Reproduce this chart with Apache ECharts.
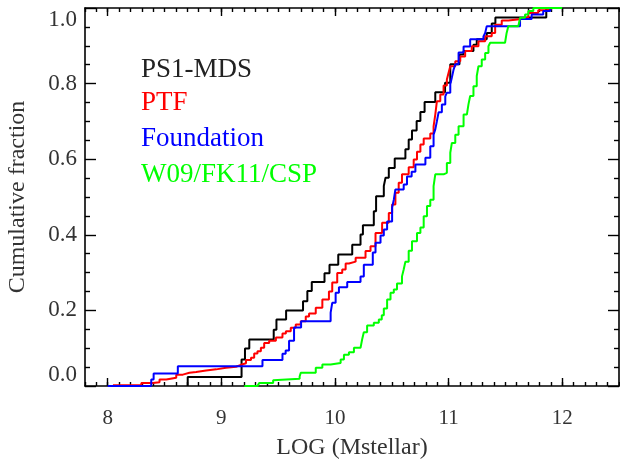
<!DOCTYPE html>
<html><head><meta charset="utf-8">
<script src="https://cdn.jsdelivr.net/npm/echarts@6/dist/echarts.min.js"></script>
<style>html,body{margin:0;padding:0;background:#fff}#c{width:620px;height:462px}</style>
</head><body><div id="c"></div>
<script>
// ---- data ----
const seriesNames = ['PS1-MDS', 'PTF', 'Foundation', 'W09/FK11/CSP'];
const seriesColors = ['#000000', '#ff0000', '#0000ff', '#00ff00'];
const xTickValues = [8, 9, 10, 11, 12];

const ps1X = [8.704, 8.704, 9.178, 9.208, 9.246, 9.461, 9.485, 9.570, 9.719, 9.757, 9.796, 9.908, 9.952, 10.029, 10.152, 10.225, 10.246, 10.342, 10.362, 10.430, 10.445, 10.474, 10.526, 10.620, 10.649, 10.678, 10.719, 10.752, 10.789, 10.883, 10.969, 11.015, 11.096, 11.132, 11.219, 11.248, 11.336, 11.380, 11.412, 11.860];
const ps1Y = [0, 0.024, 0.070, 0.099, 0.123, 0.149, 0.176, 0.200, 0.224, 0.251, 0.275, 0.298, 0.321, 0.348, 0.374, 0.401, 0.425, 0.462, 0.502, 0.529, 0.551, 0.577, 0.602, 0.626, 0.652, 0.676, 0.701, 0.725, 0.751, 0.777, 0.802, 0.851, 0.877, 0.886, 0.903, 0.917, 0.934, 0.959, 0.975, 1.0];

const ptfX = [8.046, 8.296, 8.397, 8.456, 8.515, 8.603, 8.661, 8.719, 8.778, 8.866, 8.954, 9.041, 9.129, 9.173, 9.217, 9.261, 9.289, 9.318, 9.348, 9.377, 9.421, 9.480, 9.538, 9.568, 9.611, 9.655, 9.699, 9.743, 9.772, 9.831, 9.889, 9.947, 9.976, 10.020, 10.064, 10.094, 10.123, 10.182, 10.269, 10.313, 10.357, 10.415, 10.474, 10.503, 10.532, 10.561, 10.590, 10.649, 10.693, 10.722, 10.752, 10.781, 10.839, 10.868, 10.883, 10.897, 10.927, 10.956, 10.985, 11.000, 11.015, 11.059, 11.103, 11.146, 11.204, 11.263, 11.322, 11.380, 11.410, 11.468, 11.526, 11.643, 11.702, 11.789, 11.862, 11.904];
const ptfY = [0.002, 0.008, 0.010, 0.017, 0.022, 0.030, 0.035, 0.037, 0.041, 0.044, 0.048, 0.051, 0.056, 0.060, 0.069, 0.075, 0.086, 0.092, 0.101, 0.114, 0.120, 0.128, 0.139, 0.145, 0.154, 0.163, 0.171, 0.184, 0.192, 0.207, 0.229, 0.250, 0.274, 0.299, 0.308, 0.324, 0.329, 0.339, 0.357, 0.370, 0.405, 0.432, 0.458, 0.480, 0.511, 0.538, 0.560, 0.579, 0.599, 0.620, 0.639, 0.655, 0.668, 0.687, 0.718, 0.753, 0.771, 0.795, 0.811, 0.829, 0.846, 0.859, 0.872, 0.886, 0.899, 0.912, 0.925, 0.934, 0.956, 0.967, 0.971, 0.974, 0.987, 0.994, 0.998, 1.0];

const fndX = [8.000, 8.383, 8.404, 8.617, 9.362, 9.538, 9.566, 9.596, 9.640, 9.702, 9.962, 9.976, 10.006, 10.035, 10.108, 10.225, 10.254, 10.333, 10.357, 10.401, 10.430, 10.459, 10.503, 10.518, 10.532, 10.605, 10.634, 10.675, 10.708, 10.796, 10.839, 10.868, 10.883, 10.897, 10.912, 10.941, 10.971, 10.985, 11.015, 11.029, 11.044, 11.059, 11.088, 11.132, 11.190, 11.307, 11.322, 11.336, 11.629, 11.731, 11.833, 11.895];
const fndY = [0, 0.017, 0.033, 0.052, 0.069, 0.085, 0.094, 0.120, 0.155, 0.171, 0.194, 0.220, 0.247, 0.261, 0.275, 0.290, 0.321, 0.353, 0.379, 0.398, 0.414, 0.435, 0.472, 0.493, 0.520, 0.533, 0.554, 0.567, 0.586, 0.604, 0.634, 0.665, 0.679, 0.700, 0.724, 0.745, 0.766, 0.776, 0.798, 0.816, 0.837, 0.851, 0.882, 0.898, 0.917, 0.925, 0.934, 0.952, 0.971, 0.983, 0.992, 1.0];

const cspX = [9.202, 9.318, 9.333, 9.456, 9.469, 9.689, 9.699, 9.831, 9.889, 9.962, 10.050, 10.079, 10.123, 10.167, 10.225, 10.239, 10.254, 10.283, 10.342, 10.386, 10.412, 10.430, 10.459, 10.489, 10.518, 10.546, 10.590, 10.605, 10.620, 10.649, 10.678, 10.722, 10.752, 10.781, 10.810, 10.839, 10.868, 10.883, 10.956, 10.985, 11.015, 11.029, 11.059, 11.088, 11.132, 11.161, 11.175, 11.190, 11.219, 11.248, 11.263, 11.292, 11.322, 11.351, 11.366, 11.497, 11.511, 11.526, 11.614, 11.629, 11.673, 11.702, 11.746, 12.000];
const cspY = [0, 0.005, 0.008, 0.015, 0.019, 0.025, 0.035, 0.048, 0.057, 0.061, 0.070, 0.083, 0.089, 0.101, 0.105, 0.123, 0.142, 0.160, 0.167, 0.176, 0.187, 0.205, 0.229, 0.247, 0.255, 0.271, 0.290, 0.308, 0.329, 0.358, 0.383, 0.405, 0.419, 0.449, 0.476, 0.493, 0.529, 0.560, 0.564, 0.590, 0.617, 0.643, 0.665, 0.687, 0.718, 0.723, 0.745, 0.767, 0.793, 0.820, 0.846, 0.864, 0.881, 0.899, 0.908, 0.912, 0.934, 0.952, 0.956, 0.974, 0.983, 0.992, 1.0, 1.0];

// ---- chart ----
const FONT = '"Liberation Serif", "Times New Roman", serif';
const zip = (xs, ys) => xs.map((x, i) => [x, ys[i]]);
const allData = [zip(ps1X, ps1Y), zip(ptfX, ptfY), zip(fndX, fndY), zip(cspX, cspY)];
const legendY = [70, 103, 139, 175];

const axLine = { show: true, onZero: false, lineStyle: { color: '#000', width: 1.6 } };
const tickStyle = { color: '#000', width: 1.4 };
const XMIN = 7.8, XMAX = 12.5;

function xMajor(pos, withLabels) {
  return {
    type: 'value', position: pos, min: XMIN, max: XMAX,
    axisLine: axLine,
    axisTick: { show: true, inside: true, length: 8, customValues: xTickValues, lineStyle: tickStyle },
    axisLabel: withLabels ? { show: true, customValues: xTickValues, margin: 22, fontSize: 21, color: '#333', fontFamily: FONT } : { show: false },
    splitLine: { show: false },
    name: withLabels ? 'LOG (Mstellar)' : '',
    nameLocation: 'middle', nameGap: 50,
    nameTextStyle: { fontSize: 24, color: '#333', fontFamily: FONT }
  };
}
function xMinor(pos) {
  return {
    type: 'value', position: pos, min: XMIN, max: XMAX, interval: 0.1,
    axisLine: { show: false, onZero: false },
    axisTick: { show: true, inside: true, length: 4, lineStyle: tickStyle },
    axisLabel: { show: false }, splitLine: { show: false }
  };
}
function yAx(pos, withLabels) {
  return {
    type: 'value', position: pos, min: 0, max: 1, interval: 0.2,
    axisLine: axLine,
    axisTick: { show: true, inside: true, length: 11, lineStyle: tickStyle },
    minorTick: { show: true, splitNumber: 4, length: 5, lineStyle: tickStyle },
    axisLabel: withLabels ? {
      show: true, margin: 8, fontSize: 23, color: '#333', fontFamily: FONT,
      formatter: v => v.toFixed(1),
      verticalAlignMinLabel: 'bottom', verticalAlignMaxLabel: 'top'
    } : { show: false },
    splitLine: { show: false }, minorSplitLine: { show: false },
    name: withLabels ? 'Cumulative fraction' : '',
    nameLocation: 'middle', nameRotate: 90, nameGap: 55,
    nameTextStyle: { fontSize: 24, color: '#333', fontFamily: FONT }
  };
}

const chart = echarts.init(document.getElementById('c'), null, { renderer: 'canvas' });
chart.setOption({
  animation: false,
  backgroundColor: '#ffffff',
  grid: { left: 85, right: 1, top: 8, bottom: 76, containLabel: false, outerBoundsMode: 'none' },
  xAxis: [xMajor('bottom', true), xMinor('bottom'), xMajor('top', false), xMinor('top')],
  yAxis: [yAx('left', true), yAx('right', false)],
  series: allData.map((d, i) => ({
    type: 'line', name: seriesNames[i], data: d, step: 'end',
    xAxisIndex: 0, yAxisIndex: 0,
    symbol: 'none', clip: false,
    lineStyle: { color: seriesColors[i], width: 2 },
    itemStyle: { color: seriesColors[i] },
    z: 3 + i
  })),
  graphic: seriesNames.map((n, i) => ({
    type: 'text', x: 141, y: legendY[i],
    style: { text: n, fill: i === 0 ? '#222' : seriesColors[i], font: '27px "Liberation Serif"', verticalAlign: 'middle' }
  }))
});
</script></body></html>
